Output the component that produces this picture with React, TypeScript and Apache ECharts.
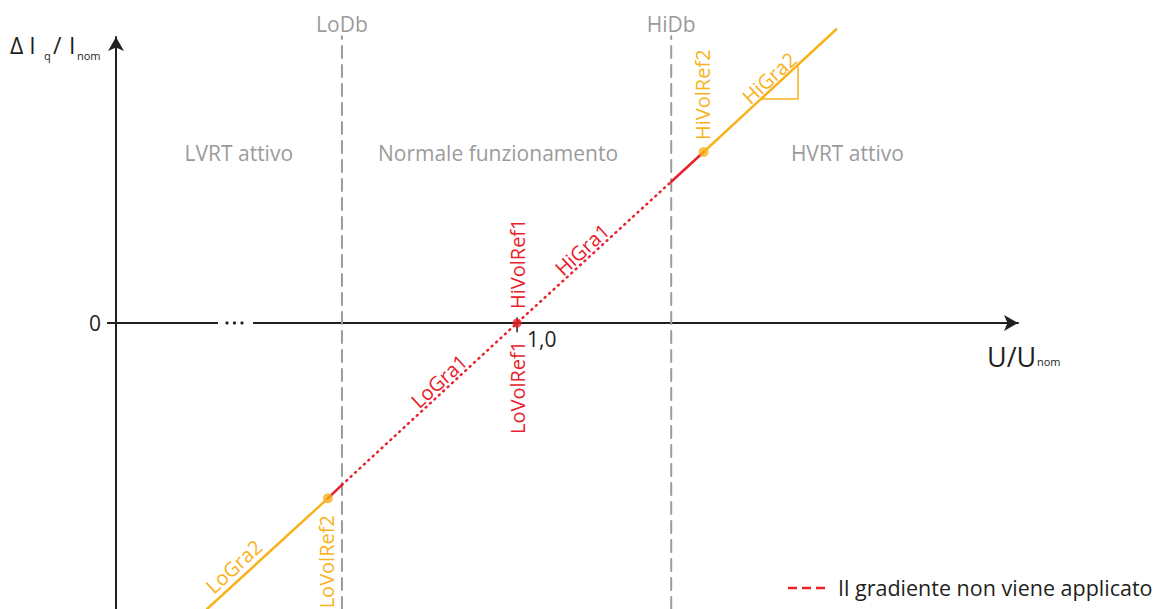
import React, { useEffect, useRef } from "react";
import * as echarts from "echarts";

// ---- data (U/Unom on x, ΔIq/Inom on y) ----
const X_MIN = 0.771;
const X_MAX = 1.286;
const Y_MIN = -1;
const Y_MAX = 1;

const deadbandX = [0.9, 1.088];
const deadbandNames = ["LoDb", "HiDb"];
const deadbandTop = 1.003;

const loGra2Line = [[0.823, -1.0], [0.892, -0.613]];
const loRedSolid = [[0.892, -0.613], [0.9, -0.566]];
const redDotted = [[0.9, -0.566], [1.0, 0], [1.088, 0.494]];
const hiRedSolid = [[1.088, 0.494], [1.1065, 0.598]];
const hiGra2Line = [[1.1065, 0.598], [1.1823, 1.027]];
const slopeTriangle = [[1.1394, 0.783], [1.1604, 0.783], [1.1604, 0.901]];
const volRef2Points = [[0.892, -0.613], [1.1065, 0.598]];
const nominalPoint = [[1.0, 0]];
const nominalTick = [[1.0, 0.0175], [1.0, -0.031]];

const regionNames = ["LVRT attivo", "Normale funzionamento", "HVRT attivo"];
const regionX = [0.8411, 0.9891, 1.1886];
const regionY = 0.596;

const yTickValues = [0];
const xTickValues = [1.0];
const xTickLabels = ["1,0"];

const legendText = "Il gradiente non viene applicato";

const RED = "#E8212B";
const ORANGE = "#F8B21C";
const GRAY = "#9B9B9B";
const BLACK = "#231F20";
const FONT = "Open Sans";

export default function App() {
  const ref = useRef<HTMLDivElement>(null);

  useEffect(() => {
    const chart = echarts.init(ref.current as HTMLDivElement, null, { renderer: "svg" });
    const line = (name: string, data: number[][], color: string, width: number, type: any = "solid") => ({
      type: "line",
      name,
      data,
      symbol: "none",
      clip: false,
      silent: true,
      lineStyle: { color, width, type, cap: "round" },
      z: 3,
    });

    chart.setOption({
      animation: false,
      grid: { left: 116, right: 150, top: 37, bottom: 0, outerBoundsMode: "none", containLabel: false },
      xAxis: {
        type: "value",
        min: X_MIN,
        max: X_MAX,
        splitLine: { show: false },
        axisLine: {
          onZero: true,
          symbol: ["none", "arrow"],
          symbolSize: [12, 14],
          lineStyle: { color: BLACK, width: 2 },
        },
        axisTick: { show: false },
        axisLabel: { show: false },
      },
      yAxis: {
        type: "value",
        min: Y_MIN,
        max: Y_MAX,
        splitLine: { show: false },
        axisLine: {
          onZero: false,
          symbol: ["none", "arrow"],
          symbolSize: [12, 14],
          lineStyle: { color: BLACK, width: 2 },
        },
        axisTick: {
          show: true,
          customValues: yTickValues,
          length: 9,
          lineStyle: { color: BLACK, width: 2 },
        },
        axisLabel: {
          customValues: yTickValues,
          margin: 15,
          color: BLACK,
          fontSize: 21,
          fontFamily: FONT,
        },
      },
      series: [
        ...deadbandX.map((x, i) =>
          line(deadbandNames[i], [[x, Y_MIN], [x, deadbandTop]], GRAY, 2, [12, 7])
        ),
        line("LoGra2", loGra2Line, ORANGE, 2.5),
        line("HiGra2", hiGra2Line, ORANGE, 2.5),
        line("slope", slopeTriangle, ORANGE, 1.5),
        line("LoRed", loRedSolid, RED, 2.5),
        line("HiRed", hiRedSolid, RED, 2.5),
        line("gradient off", redDotted, RED, 2.5, [1, 5]),
        line("tick", nominalTick, BLACK, 1.5),
        {
          type: "scatter",
          data: volRef2Points,
          symbolSize: 10,
          itemStyle: { color: ORANGE },
          z: 5,
        },
        {
          type: "scatter",
          data: nominalPoint,
          symbolSize: 9,
          itemStyle: { color: RED },
          z: 5,
        },
      ],
    });

    const px = (p: number[]) => chart.convertToPixel({ gridIndex: 0 }, p) as number[];
    const ANG = Math.atan(0.92);
    const txt = (
      text: string,
      p: number[],
      opts: { dx?: number; dy?: number; rot?: number; align?: string; va?: string; color?: string; size?: number }
    ) => ({
      type: "text",
      x: p[0] + (opts.dx ?? 0),
      y: p[1] + (opts.dy ?? 0),
      rotation: opts.rot ?? 0,
      z: 10,
      style: {
        text,
        fill: opts.color ?? GRAY,
        fontSize: opts.size ?? 20,
        fontFamily: FONT,
        textAlign: opts.align ?? "center",
        textVerticalAlign: opts.va ?? "middle",
      },
    });

    const origin = px([1.0, 0]);
    const els: any[] = [];
    // axis break
    els.push({ type: "rect", shape: { x: 218, y: origin[1] - 4, width: 35, height: 8 }, style: { fill: "#fff" }, z: 9 });
    [227, 234.5, 242].forEach((cx) =>
      els.push({ type: "circle", shape: { cx, cy: origin[1], r: 1.6 }, style: { fill: BLACK }, z: 10 })
    );
    // x tick label
    xTickValues.forEach((v, i) =>
      els.push(txt(xTickLabels[i], px([v, 0]), { dx: 10, dy: 16, align: "left", color: BLACK, size: 21 }))
    );
    // deadband labels
    deadbandX.forEach((x, i) => els.push(txt(deadbandNames[i], px([x, Y_MAX]), { dy: -13, size: 21 })));
    // region labels
    regionNames.forEach((n, i) => els.push(txt(n, px([regionX[i], regionY]), { size: 21 })));
    // red labels
    els.push(txt("HiVolRef1", origin, { dx: 0.5, dy: -14, rot: Math.PI / 2, align: "left", color: RED }));
    els.push(txt("LoVolRef1", origin, { dx: 0.5, dy: 111, rot: Math.PI / 2, align: "left", color: RED }));
    els.push(txt("HiGra1", px([1.041, 0.231]), { rot: ANG, va: "bottom", color: RED }));
    els.push(txt("LoGra1", px([0.9593, -0.229]), { rot: ANG, va: "bottom", color: RED }));
    // orange labels
    const hiRef2 = px(volRef2Points[1]);
    const loRef2 = px(volRef2Points[0]);
    els.push(txt("HiVolRef2", hiRef2, { dx: -1, dy: -12, rot: Math.PI / 2, align: "left", color: ORANGE }));
    els.push(txt("LoVolRef2", loRef2, { dx: -1, dy: 110, rot: Math.PI / 2, align: "left", color: ORANGE }));
    els.push(txt("HiGra2", px([1.1479, 0.831]), { rot: ANG, va: "bottom", color: ORANGE }));
    els.push(txt("LoGra2", px([0.8422, -0.877]), { rot: ANG, va: "bottom", color: ORANGE }));
    // axis titles
    els.push(txt("Δ I", [10, 56], { align: "left", va: "bottom", color: BLACK, size: 23 }));
    els.push(txt("q", [44, 61], { align: "left", va: "bottom", color: BLACK, size: 11 }));
    els.push(txt("/", [53, 56], { align: "left", va: "bottom", color: BLACK, size: 23 }));
    els.push(txt("I", [69, 56], { align: "left", va: "bottom", color: BLACK, size: 23 }));
    els.push(txt("nom", [77, 61], { align: "left", va: "bottom", color: BLACK, size: 11 }));
    els.push(txt("U/U", [987, 370], { align: "left", va: "bottom", color: BLACK, size: 27 }));
    els.push(txt("nom", [1037, 367], { align: "left", va: "bottom", color: BLACK, size: 11 }));
    // legend
    els.push({
      type: "line",
      shape: { x1: 788, y1: 588, x2: 826, y2: 588 },
      style: { stroke: RED, lineWidth: 2.5, lineDash: [9, 5] },
      z: 10,
    });
    els.push(txt(legendText, [838, 587], { align: "left", color: BLACK, size: 21.5 }));

    chart.setOption({ graphic: { elements: els } });
    return () => chart.dispose();
  }, []);

  return (
    <div
      ref={ref}
      style={{ position: "absolute", left: 0, top: 0, width: 1168, height: 609, background: "#fff" }}
    />
  );
}
